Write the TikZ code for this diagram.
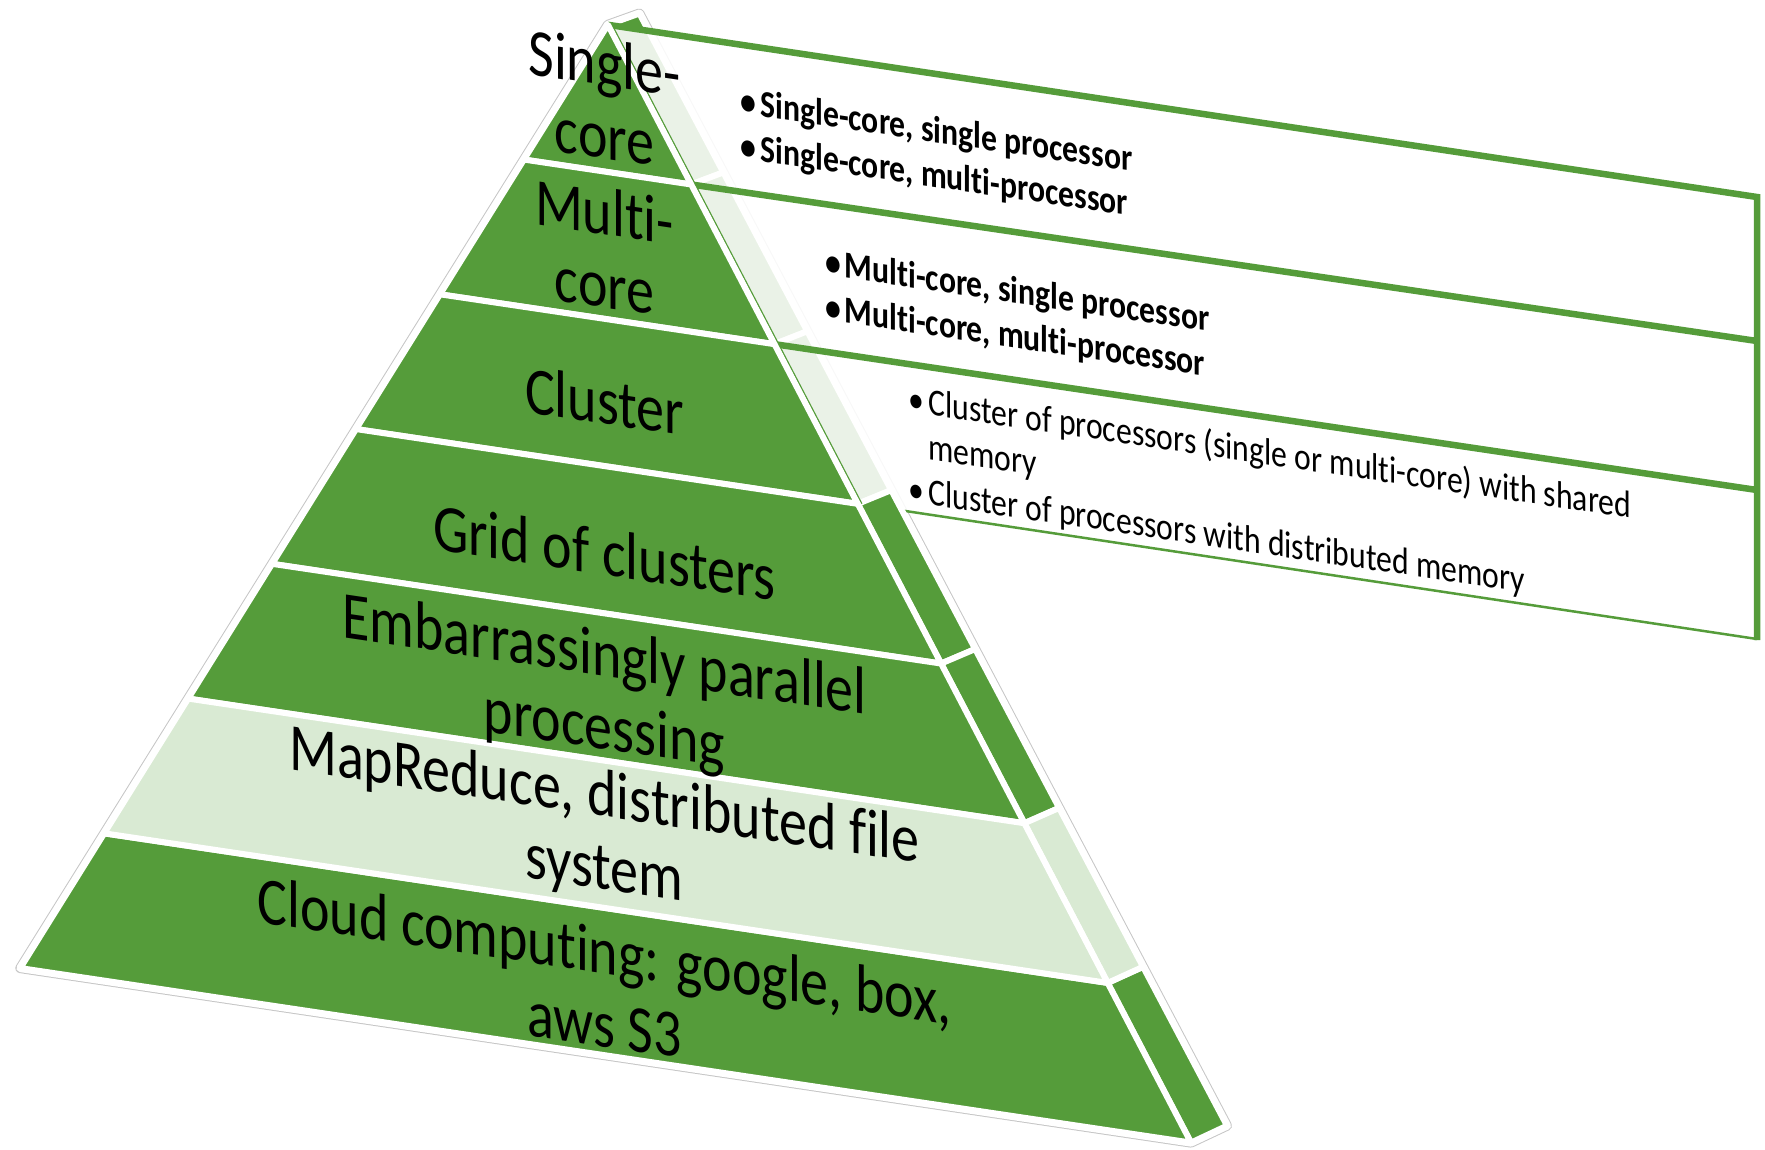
\documentclass[tikz,border=0pt]{standalone}
\usepackage{fontspec}
\setmainfont{Carlito}[Ligatures=NoCommon]
\usetikzlibrary{calc}
\definecolor{pgreen}{RGB}{85,156,58}
\definecolor{plight}{RGB}{217,234,211}
\newcommand\pbul{\makebox[0.62em][l]{\textbullet}}
\begin{document}
\begin{tikzpicture}[x=1pt,y=-1pt,
  tier/.style={fill=pgreen, draw=white, line width=6pt, line join=round},
  ltier/.style={fill=plight, draw=white, line width=6pt, line join=round},
  boxline/.style={draw=pgreen, line width=6.5pt},
  thinline/.style={draw=pgreen, line width=2.5pt},
  flabel/.style={font=\fontsize{56}{61}\selectfont, align=center, yslant=-0.148, yscale=1.2, inner sep=0pt},
  btext/.style={font=\fontsize{31.7}{37.5}\selectfont, align=left, anchor=west, yslant=-0.147, yscale=1.2, inner sep=0pt}]
\useasboundingbox (0,0) rectangle (1765,1149);
% key corners
\coordinate (A) at (607.9,24.8);
\coordinate (BL) at (20.3,968.1);
\coordinate (BR) at (1191.0,1142.6);
\coordinate (SA) at (639.4,13.5);
\coordinate (SB) at (1227.0,1125.7);
\foreach \k in {0,...,7}{
  \coordinate (L\k) at ($(A)!\k/7!(BL)$);
  \coordinate (R\k) at ($(A)!\k/7!(BR)$);
  \coordinate (S\k) at ($(SA)!\k/7!(SB)$);
}
% box right corners
\coordinate (E0) at (1757,197);
\coordinate (E1) at (1757,341);
\coordinate (E2) at (1757,490);
\coordinate (E3) at (1757,639);
% outline of the pyramid
\draw[gray!45, line width=10pt, line join=round] (L7) -- (A) -- (SA) -- (S7) -- (R7) -- cycle;
\draw[white, line width=8pt, line join=round] (L7) -- (A) -- (SA) -- (S7) -- (R7) -- cycle;
% upper side faces (behind the boxes)
\foreach \k [evaluate=\k as \n using int(\k+1)] in {0,1,2}{
  \path[tier] (R\k) -- (S\k) -- (S\n) -- (R\n) -- cycle;
}
% boxes
\fill[white, fill opacity=0.88] (R0) -- (E0) -- (E3) -- (R3) -- cycle;
\draw[thinline] (R3) -- (E3);
\draw[boxline] (R1) -- (E1);
\draw[boxline] (R2) -- (E2);
\draw[boxline, line join=miter] (R0) -- (E0) -- ($(E3)+(0,1.2)$);
% lower side faces
\foreach \k [evaluate=\k as \n using int(\k+1)] in {3,4,6}{
  \path[tier] (R\k) -- (S\k) -- (S\n) -- (R\n) -- cycle;
}
\path[ltier] (R5) -- (S5) -- (S6) -- (R6) -- cycle;
% thin edge line on the upper side
\draw[pgreen, line width=1.5pt] ($(R0)+(4,0)$) -- ($(R3)+(4,0)$);
% front face tiers
\path[tier] (A) -- (R1) -- (L1) -- cycle;
\foreach \k [evaluate=\k as \n using int(\k+1)] in {1,2,3,4,6}{
  \path[tier] (L\k) -- (R\k) -- (R\n) -- (L\n) -- cycle;
}
\path[ltier] (L5) -- (R5) -- (R6) -- (L6) -- cycle;
% front labels
\node[flabel] (t0) at (604.5,99) {Single-\\core};
\node[flabel] (t1) at (604.5,248) {Multi-\\core};
\node[flabel] (t2) at (604.5,401) {Cluster};
\node[flabel] (t3) at (604.5,552) {Grid of clusters};
\node[flabel] (t4) at (604.5,695) {Embarrassingly parallel\\processing};
\node[flabel] (t5) at (604.5,835) {MapReduce, distributed file\\system};
\node[flabel] (t6) at (604.5,987) {Cloud computing: google, box,\\aws S3};
% box texts
\node[btext, font=\fontsize{31.7}{37.5}\selectfont\bfseries] (b1) at (740.7,126) {\pbul Single-core, single processor\\\pbul Single-core, multi-processor};
\node[btext, font=\fontsize{31.7}{37.5}\selectfont\bfseries] (b2) at (825,287) {\pbul Multi-core, single processor\\\pbul Multi-core, multi-processor};
\node[btext] (b3) at (908.5,446) {\pbul Cluster of processors (single or multi-core) with shared\\\hspace*{0.62em}memory\\\pbul Cluster of processors with distributed memory};
\end{tikzpicture}
\end{document}
